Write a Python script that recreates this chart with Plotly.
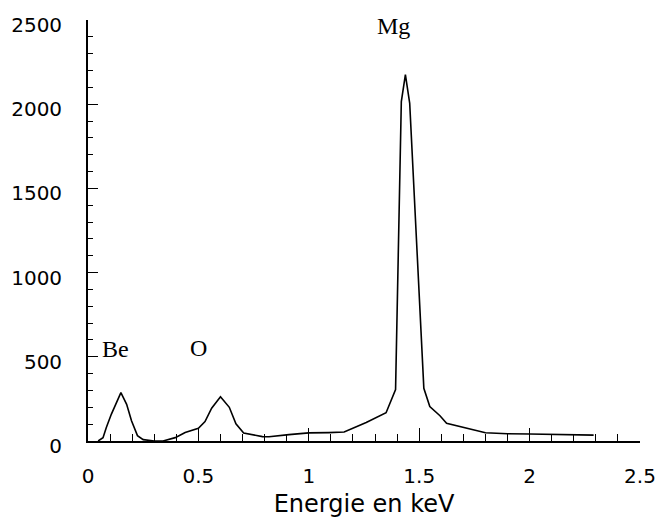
import plotly.graph_objects as go

energy_kev = [0.046, 0.068, 0.083, 0.106, 0.149, 0.175, 0.197, 0.224, 0.25, 0.30, 0.34,
              0.395, 0.44, 0.50, 0.53, 0.56, 0.60, 0.64, 0.67, 0.705, 0.79, 0.82, 0.91,
              1.0, 1.09, 1.16, 1.26, 1.35, 1.393, 1.419, 1.4375, 1.457, 1.521, 1.548,
              1.594, 1.624, 1.80, 1.90, 2.0, 2.09, 2.20, 2.29]
counts = [0, 20, 80, 160, 287, 218, 120, 32, 8, 0, 0,
          20, 50, 76, 115, 195, 263, 200, 102, 48, 26, 25, 38,
          48, 50, 53, 110, 168, 305, 2015, 2175, 2005, 313, 205,
          150, 105, 49, 43, 42, 40, 40, 35]

peak_labels = ["Be", "O", "Mg"]
peak_label_x = [0.125, 0.5, 1.385]
peak_label_y = [546, 550, 2465]

x_ticks = [0, 0.5, 1, 1.5, 2, 2.5]
x_tick_text = ["0", "0.5", "1", "1.5", "2", "2.5"]
y_ticks = [0, 500, 1000, 1500, 2000, 2500]

fig = go.Figure()
fig.add_trace(go.Scatter(x=energy_kev, y=counts, mode="lines",
                         line=dict(color="black", width=1.6), showlegend=False,
                         hoverinfo="skip"))

for t, x, y in zip(peak_labels, peak_label_x, peak_label_y):
    fig.add_annotation(x=x, y=y, text=t, showarrow=False, xref="x", yref="y",
                       font=dict(family="Liberation Serif", size=24, color="black"))

fig.update_layout(
    width=661, height=518,
    margin=dict(l=88, r=21, t=20, b=77),
    paper_bgcolor="white", plot_bgcolor="white",
    font=dict(family="DejaVu Sans", color="black"),
    xaxis=dict(range=[0, 2.5], tickvals=x_ticks, ticktext=x_tick_text, automargin=False,
               showgrid=False, zeroline=False, showline=True, linecolor="black", linewidth=1.8,
               ticks="inside", ticklen=13, tickwidth=1.2, tickcolor="black",
               minor=dict(dtick=0.1, ticks="inside", ticklen=7, tickwidth=1.2, tickcolor="black", showgrid=False),
               tickfont=dict(family="DejaVu Sans", size=20, color="black"),
               ticklabelstandoff=16,
               title=dict(text="Energie en keV", standoff=14,
                          font=dict(family="DejaVu Sans", size=24, color="black"))),
    yaxis=dict(range=[0, 2500], tickvals=y_ticks, automargin=False,
               showgrid=False, zeroline=False, showline=True, linecolor="black", linewidth=1.8,
               ticks="inside", ticklen=10, tickwidth=1.2, tickcolor="black",
               minor=dict(dtick=100, ticks="inside", ticklen=5, tickwidth=1.2, tickcolor="black", showgrid=False),
               tickfont=dict(family="DejaVu Sans", size=20, color="black"),
               ticklabelstandoff=20, ticklabelshift=5),
)

fig.write_html("out.html", config={"displayModeBar": False},
               post_script="document.body.style.margin='0';")
